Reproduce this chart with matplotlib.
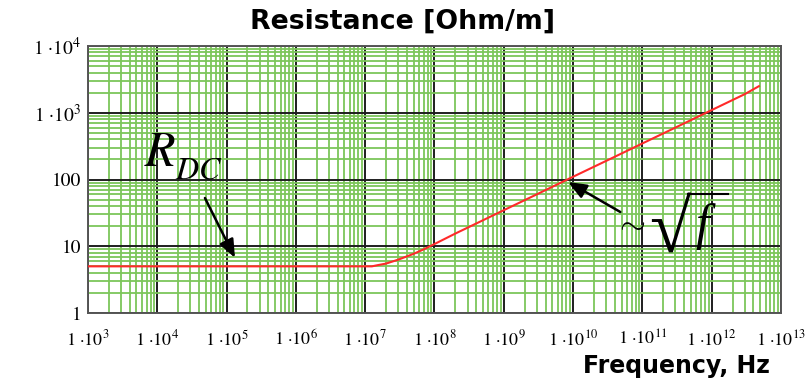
import math
import matplotlib
matplotlib.use("Agg")
import matplotlib.pyplot as plt
from matplotlib.lines import Line2D
from matplotlib.ticker import LogLocator, FixedLocator, FuncFormatter, NullFormatter

plt.rcParams["mathtext.fontset"] = "stix"

# Resistance per metre vs frequency (skin effect)
freq_hz = [1e3, 1e5, 1e7, 1.25e7, 1.5e7, 2e7, 3e7, 5e7, 7e7, 1e8, 2e8, 5e8,
           1e9, 3e9, 1e10, 3e10, 1e11, 3e11, 1e12, 3e12, 4.8e12]
resist_ohm_m = [5.0, 5.0, 5.0, 5.0, 5.2, 5.5, 6.3, 7.7, 9.0, 10.8, 15.5, 24.5,
                34.7, 60.0, 110.0, 190.0, 347.0, 600.0, 1097.0, 1900.0, 2500.0]

x_ticks = [1e3, 1e4, 1e5, 1e6, 1e7, 1e8, 1e9, 1e10, 1e11, 1e12, 1e13]
y_ticks = [1, 10, 100, 1e3, 1e4]
y_tick_labels = ["1", "10", "100",
                 r"$\mathrm{1\ ·10^{3}}\quad$", r"$\mathrm{1\ ·10^{4}}\quad$"]

title_text = "Resistance [Ohm/m]"
xlabel_text = "Frequency, Hz"

GREEN = "#7cc65a"
DARK = "#1e1e1e"

fig = plt.figure(figsize=(8.06, 3.79), dpi=100)
ax = fig.add_axes([88 / 806, 1 - 313 / 379, (781 - 88) / 806, (313 - 46) / 379])
ax.set_xscale("log")
ax.set_yscale("log")
ax.set_xlim(x_ticks[0], x_ticks[-1])
ax.set_ylim(y_ticks[0], y_ticks[-1])

ax.xaxis.set_major_locator(FixedLocator(x_ticks))
ax.yaxis.set_major_locator(FixedLocator(y_ticks))
ax.xaxis.set_minor_locator(LogLocator(base=10, subs=range(2, 10), numticks=100))
ax.yaxis.set_minor_locator(LogLocator(base=10, subs=range(2, 10), numticks=100))
ax.xaxis.set_minor_formatter(NullFormatter())
ax.yaxis.set_minor_formatter(NullFormatter())


def xfmt(v, pos):
    exp = int(round(math.log10(v)))
    return r"$\mathrm{1\ ·10^{%d}}$" % exp


ax.xaxis.set_major_formatter(FuncFormatter(xfmt))
ax.set_yticklabels(y_tick_labels)

ax.tick_params(which="both", length=0)
ax.tick_params(axis="x", which="major", pad=12, labelsize=13)
ax.tick_params(axis="y", which="major", pad=5, labelsize=14)
for lbl in ax.get_xticklabels() + ax.get_yticklabels():
    lbl.set_fontfamily("STIXGeneral")

ax.set_axisbelow(True)
ax.grid(which="minor", color=GREEN, lw=1.3)
ax.grid(which="major", color=DARK, lw=1.4)
for sp in ax.spines.values():
    sp.set_color("#555555")
    sp.set_linewidth(1.4)

ax.plot(freq_hz, resist_ohm_m, color="#ff2a2a", lw=1.5, zorder=5)

# annotation arrows
arrow_style = dict(arrowstyle="-|>,head_length=1.1,head_width=0.45",
                   color="black", lw=1.8, shrinkA=0, shrinkB=0)
ax.annotate("", xy=(1.32e5, 6.7), xytext=(4.87e4, 52.8),
            arrowprops=arrow_style, zorder=6)
ax.annotate("", xy=(8.5e9, 91.8), xytext=(4.8e10, 32.6),
            arrowprops=arrow_style, zorder=6)

# R_DC label
fig.text(144 / 806, 1 - 152 / 379, r"$R$", fontsize=36, va="center", ha="left")
fig.text(175 / 806, 1 - 170 / 379, r"$DC$", fontsize=23, va="center", ha="left")

# ~ sqrt(f) label: tilde, radical glyph with its bar, italic f
fig.text(614 / 806, 1 - 223 / 379, r"$\sim$", fontsize=24,
         va="center", ha="left", math_fontfamily="cm")
fig.text(649 / 806, 1 - 200 / 379, "\u221a", fontsize=54,
         va="top", ha="left", family="Liberation Serif")
fig.add_artist(Line2D([688 / 806, 728 / 806], [1 - 193.5 / 379, 1 - 193.5 / 379],
                      transform=fig.transFigure, color="black", lw=1.5))
fig.text(695 / 806, 1 - 227 / 379, "f", fontsize=36, style="italic",
         va="center", ha="left", family="Liberation Serif")

fig.text(403 / 806, 1 - 22 / 379, title_text, fontsize=19.3, fontweight="bold",
         ha="center", va="center", family="DejaVu Sans")
fig.text(770 / 806, 1 - 366 / 379, xlabel_text, fontsize=17, fontweight="bold",
         ha="right", va="center", family="DejaVu Sans")

fig.savefig("out.png", dpi=100)
